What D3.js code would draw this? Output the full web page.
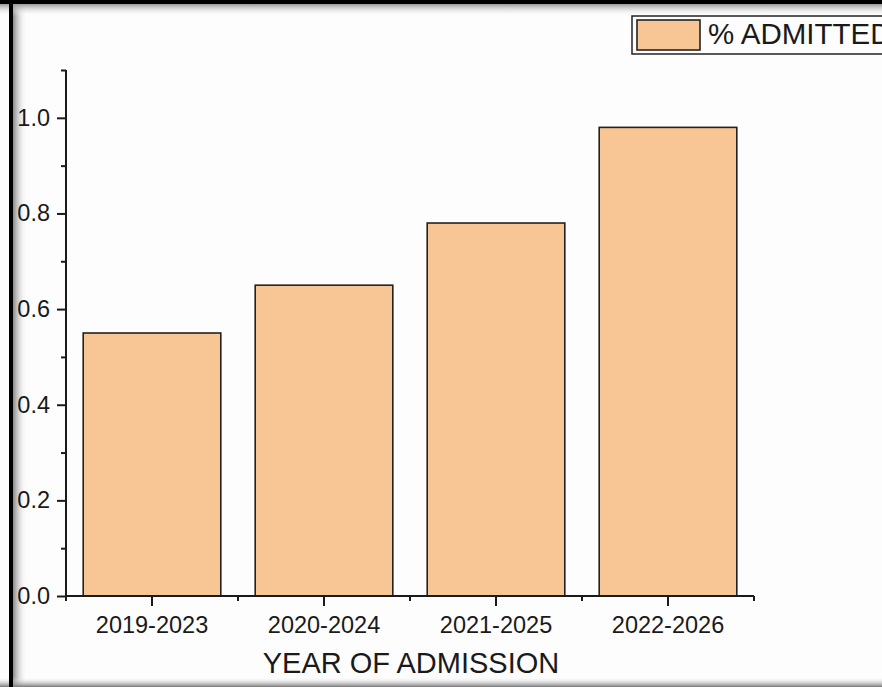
<!DOCTYPE html>
<html>
<head>
    <title>% Admitted by Year</title>
    <script src="https://d3js.org/d3.v7.min.js"></script>
    <style>
        body { margin: 0; background: #fff; }
        text { font-family: "Liberation Sans", Arial, sans-serif; fill: #1a1a1a; }
    </style>
</head>
<body>
<svg width="882" height="687"></svg>
<script>
    // data
    const years = ["2019-2023", "2020-2024", "2021-2025", "2022-2026"];
    const admitted = [0.55, 0.65, 0.78, 0.98];
    const yTicks = [0.0, 0.2, 0.4, 0.6, 0.8, 1.0];
    const yMinor = [0.1, 0.3, 0.5, 0.7, 0.9, 1.1];
    const seriesName = "% ADMITTED";
    const xTitle = "YEAR OF ADMISSION";

    const width = 882, height = 687;
    const plotLeft = 66, plotRight = 754, plotTop = 70, plotBottom = 596;
    const barFill = "#f8c694";
    const ink = "#1a1a1a";

    const svg = d3.select("svg");

    // page frame with soft shadow like the screenshot
    const defs = svg.append("defs");
    const gl = defs.append("linearGradient").attr("id", "shL").attr("x1", 0).attr("x2", 1).attr("y1", 0).attr("y2", 0);
    gl.append("stop").attr("offset", 0).attr("stop-color", "#888");
    gl.append("stop").attr("offset", 1).attr("stop-color", "#fdfdfd").attr("stop-opacity", 0);
    const gt = defs.append("linearGradient").attr("id", "shT").attr("x1", 0).attr("x2", 0).attr("y1", 0).attr("y2", 1);
    gt.append("stop").attr("offset", 0).attr("stop-color", "#999");
    gt.append("stop").attr("offset", 1).attr("stop-color", "#fdfdfd").attr("stop-opacity", 0);
    const gb = defs.append("linearGradient").attr("id", "shB").attr("x1", 0).attr("x2", 0).attr("y1", 0).attr("y2", 1);
    gb.append("stop").attr("offset", 0).attr("stop-color", "#fdfdfd").attr("stop-opacity", 0);
    gb.append("stop").attr("offset", 1).attr("stop-color", "#777");

    svg.append("rect").attr("width", width).attr("height", height).attr("fill", "#fdfdfd");
    svg.append("rect").attr("x", 13).attr("y", 0).attr("width", 14).attr("height", height).attr("fill", "url(#shL)");
    svg.append("rect").attr("x", 0).attr("y", 4).attr("width", width).attr("height", 12).attr("fill", "url(#shT)");
    svg.append("rect").attr("x", 0).attr("y", 677).attr("width", width).attr("height", 10).attr("fill", "url(#shB)");
    svg.append("rect").attr("x", 0).attr("y", 0).attr("width", width).attr("height", 4).attr("fill", "#000");
    svg.append("rect").attr("x", 9).attr("y", 0).attr("width", 4).attr("height", height).attr("fill", "#000");

    const x = d3.scaleBand()
        .domain(years)
        .range([plotLeft, plotRight])
        .paddingInner(0.2)
        .paddingOuter(0.1);

    const y = d3.scaleLinear()
        .domain([0, 1.1])
        .range([plotBottom, plotTop]);

    // bars
    svg.append("g")
        .selectAll("rect")
        .data(years)
        .join("rect")
        .attr("x", d => x(d))
        .attr("y", (d, i) => y(admitted[i]))
        .attr("width", x.bandwidth())
        .attr("height", (d, i) => y(0) - y(admitted[i]))
        .attr("fill", barFill)
        .attr("stroke", "#222")
        .attr("stroke-width", 1.6);

    // y axis
    const yAxis = svg.append("g")
        .attr("transform", `translate(${plotLeft},0)`)
        .call(d3.axisLeft(y).tickValues(yTicks).tickFormat(d3.format(".1f")).tickSize(9).tickPadding(7));
    yAxis.selectAll("text").style("font-size", "23.5px").attr("fill", ink);
    const yMin = svg.append("g")
        .attr("transform", `translate(${plotLeft},0)`)
        .call(d3.axisLeft(y).tickValues(yMinor).tickSize(5).tickFormat(""));
    yMin.select(".domain").remove();

    // x axis
    const xAxis = svg.append("g")
        .attr("transform", `translate(0,${plotBottom})`)
        .call(d3.axisBottom(x).tickSize(10).tickSizeOuter(0).tickPadding(10));
    xAxis.selectAll("text").style("font-size", "23.5px").attr("fill", ink);
    const bounds = d3.range(years.length + 1).map(i => plotLeft + i * x.step());
    svg.append("g")
        .selectAll("line")
        .data(bounds)
        .join("line")
        .attr("x1", d => d).attr("x2", d => d)
        .attr("y1", plotBottom).attr("y2", plotBottom + 5)
        .attr("stroke", ink).attr("stroke-width", 2);

    svg.selectAll(".domain, .tick line").attr("stroke", ink).attr("stroke-width", 2);
    yAxis.select(".domain").attr("d", `M0,${y(0)}V${plotTop}`);
    xAxis.select(".domain").attr("d", `M${plotLeft},0H${plotRight}`);

    // axis title
    svg.append("text")
        .attr("x", 411)
        .attr("y", 673)
        .attr("text-anchor", "middle")
        .style("font-size", "29px")
        .text(xTitle);

    // legend (clipped by the right edge, as in the original)
    const lg = svg.append("g");
    lg.append("rect")
        .attr("x", 632).attr("y", 16).attr("width", 270).attr("height", 38)
        .attr("fill", "#fdfdfd").attr("stroke", "#222").attr("stroke-width", 1.5);
    lg.append("rect")
        .attr("x", 637).attr("y", 20).attr("width", 63).attr("height", 30)
        .attr("fill", barFill).attr("stroke", "#222").attr("stroke-width", 1.6);
    lg.append("text")
        .attr("x", 708).attr("y", 44)
        .style("font-size", "29.5px")
        .text(seriesName);
</script>
</body>
</html>
